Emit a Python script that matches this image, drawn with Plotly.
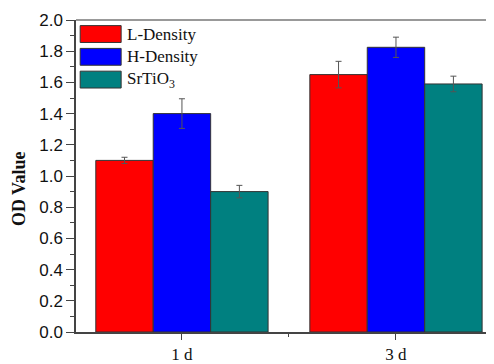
import plotly.graph_objects as go

categories = ["1 d", "3 d"]
series_names = ["L-Density", "H-Density", "SrTiO<sub>3</sub>"]
l_density = [1.10, 1.65]
l_err = [0.02, 0.085]
h_density = [1.40, 1.825]
h_err = [0.095, 0.065]
srtio3 = [0.90, 1.59]
s_err = [0.04, 0.05]
colors = ["#FF0000", "#0000FF", "#008080"]

# The page body adds an 8px offset; the figure is sized to fill the 494x364 window.
W, H = 486, 356
x_pos = list(range(len(categories)))
fig = go.Figure()
for name, vals, errs, col in zip(series_names, [l_density, h_density, srtio3],
                                 [l_err, h_err, s_err], colors):
    fig.add_trace(go.Bar(
        x=x_pos, y=vals, name=name,
        marker=dict(color=col, line=dict(color="#333333", width=1)),
        error_y=dict(type="data", array=errs, color="#555555", thickness=1, width=3),
        showlegend=False,
    ))

# custom legend
leg_y = [0.955, 0.882, 0.809]
for name, col, yy in zip(series_names, colors, leg_y):
    fig.add_shape(type="rect", xref="paper", yref="paper",
                  x0=0.01, x1=0.108, y0=yy - 0.027, y1=yy + 0.027,
                  fillcolor=col, line=dict(color="#333333", width=1))
    fig.add_annotation(xref="paper", yref="paper", x=0.118, y=yy, text=name,
                       showarrow=False, xanchor="left", yanchor="middle",
                       font=dict(family="Liberation Serif", size=17, color="#111"))

fig.add_annotation(xref="paper", yref="paper", x=-0.135, y=0.46, text="<b>OD Value</b>",
                   textangle=-90, showarrow=False, xanchor="center", yanchor="middle",
                   font=dict(family="Liberation Serif", size=18, color="#111"))

fig.update_layout(
    width=W, height=H,
    margin=dict(l=68, r=0, t=12, b=29),
    plot_bgcolor="white", paper_bgcolor="white",
    barmode="group", bargap=0.195, bargroupgap=0,
    xaxis=dict(range=[-0.495, 1.458], tickvals=x_pos, ticktext=categories,
               showline=True, linecolor="#444", linewidth=1.5, mirror=False,
               ticks="outside", ticklen=6, tickcolor="#444", showgrid=False,
               zeroline=False,
               tickfont=dict(family="Liberation Serif", size=17, color="#111"),
               minor=dict(tickvals=[0.5], ticks="outside", ticklen=3, tickcolor="#444")),
    yaxis=dict(range=[0, 2.0], dtick=0.2, tickformat=".1f",
               showline=True, linecolor="#444", linewidth=1.5, mirror=False,
               ticks="outside", ticklen=8, tickcolor="#444", showgrid=False,
               zeroline=False,
               tickfont=dict(family="Liberation Sans", size=17, color="#111"),
               minor=dict(dtick=0.1, ticks="outside", ticklen=4, tickcolor="#444")),
)
fig.add_shape(type="line", xref="paper", yref="paper", x0=0, x1=1, y0=1, y1=1,
              line=dict(color="#777", width=1.5))
fig.write_html("out.html")
